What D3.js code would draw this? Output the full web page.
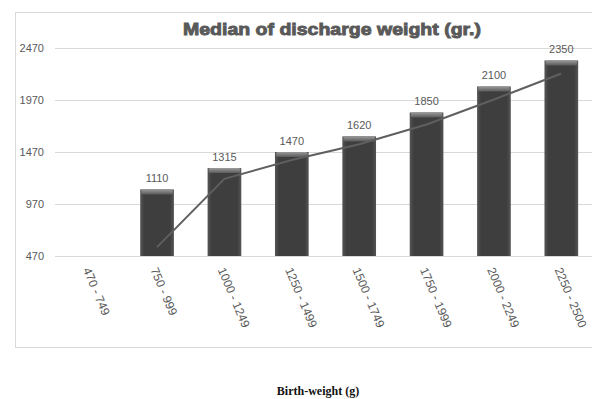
<!DOCTYPE html>
<html>
<head>
<meta charset="utf-8">
<script src="https://cdn.jsdelivr.net/npm/d3@7"></script>
<style>
  html, body { margin: 0; padding: 0; background: #fff; }
  svg { display: block; }
</style>
</head>
<body>
<svg id="chart" width="592" height="399"></svg>
<script>
// ---- data ----
const categories = ["470 - 749", "750 - 999", "1000 - 1249", "1250 - 1499", "1500 - 1749", "1750 - 1999", "2000 - 2249", "2250 - 2500"];
const medianValues = [null, 1110, 1315, 1470, 1620, 1850, 2100, 2350];
// trend line (2-period moving average as drawn in the source)
const trendValues = [null, 555, 1212.5, 1392.5, 1545, 1735, 1975, 2225];
const yTicks = [470, 970, 1470, 1970, 2470];
const titleText = "Median of discharge weight (gr.)";
const xAxisTitle = "Birth-weight (g)";

const svg = d3.select("#chart");

// gradients
const defs = svg.append("defs");
const bg = defs.append("linearGradient").attr("id", "barGrad").attr("x1", "0").attr("x2", "1").attr("y1", "0").attr("y2", "0");
bg.append("stop").attr("offset", "0%").attr("stop-color", "#555");
bg.append("stop").attr("offset", "12%").attr("stop-color", "#3e3e3e");
bg.append("stop").attr("offset", "88%").attr("stop-color", "#3e3e3e");
bg.append("stop").attr("offset", "100%").attr("stop-color", "#555");
const cg = defs.append("linearGradient").attr("id", "capGrad").attr("x1", "0").attr("x2", "0").attr("y1", "0").attr("y2", "1");
cg.append("stop").attr("offset", "0%").attr("stop-color", "#9a9a9a");
cg.append("stop").attr("offset", "100%").attr("stop-color", "#5a5a5a");

// chart border
svg.append("rect")
  .attr("x", 15.5).attr("y", 12.5).attr("width", 590).attr("height", 335)
  .attr("fill", "#fff").attr("stroke", "#d9d9d9").attr("stroke-width", 1);

// scales
const x = d3.scaleBand().domain(categories).range([56, 595]).paddingInner(0.5).paddingOuter(0.25);
const y = d3.scaleLinear().domain([470, 2470]).range([256, 48]);

// gridlines
svg.append("g").selectAll("line").data(yTicks).join("line")
  .attr("x1", 55).attr("x2", 592)
  .attr("y1", d => Math.round(y(d)) + 0.5).attr("y2", d => Math.round(y(d)) + 0.5)
  .attr("stroke", "#d9d9d9").attr("stroke-width", 1);

// y axis labels
const yAxis = d3.axisLeft(y).tickValues(yTicks).tickSize(0).tickPadding(0).tickFormat(d3.format("d"));
const gy = svg.append("g").attr("transform", "translate(44,0)").call(yAxis);
gy.select(".domain").remove();
gy.selectAll("text").attr("font-family", "Liberation Sans, Arial, sans-serif").attr("font-size", 11).attr("fill", "#595959");

// x axis labels (rotated)
const gx = svg.append("g");
gx.selectAll("text").data(categories).join("text")
  .attr("transform", d => `translate(${x(d) + x.bandwidth() / 2 - 3},${268}) rotate(67)`)
  .attr("text-anchor", "start")
  .attr("dy", "0.35em")
  .attr("font-family", "Liberation Sans, Arial, sans-serif")
  .attr("font-size", 12)
  .attr("fill", "#595959")
  .text(d => d);

// bars
const barData = categories.map((c, i) => ({ c, v: medianValues[i] })).filter(d => d.v != null);
const bars = svg.append("g");
bars.selectAll("rect.bar").data(barData).join("rect")
  .attr("class", "bar")
  .attr("x", d => x(d.c)).attr("width", x.bandwidth())
  .attr("y", d => y(d.v)).attr("height", d => y(470) - y(d.v))
  .attr("fill", "url(#barGrad)");
bars.selectAll("rect.cap").data(barData).join("rect")
  .attr("class", "cap")
  .attr("x", d => x(d.c) + 1).attr("width", x.bandwidth() - 2)
  .attr("y", d => y(d.v)).attr("height", 5)
  .attr("rx", 1.5)
  .attr("fill", "url(#capGrad)");

// trend line
const lineData = categories.map((c, i) => ({ c, v: trendValues[i] })).filter(d => d.v != null);
svg.append("path")
  .datum(lineData)
  .attr("fill", "none")
  .attr("stroke", "#5f5f5f")
  .attr("stroke-width", 2)
  .attr("d", d3.line().x(d => x(d.c) + x.bandwidth() / 2).y(d => y(d.v)));

// data labels
svg.append("g").selectAll("text").data(barData).join("text")
  .attr("x", d => x(d.c) + x.bandwidth() / 2)
  .attr("y", d => y(d.v) - 7)
  .attr("text-anchor", "middle")
  .attr("font-family", "Liberation Sans, Arial, sans-serif")
  .attr("font-size", 11)
  .attr("fill", "#595959")
  .text(d => d.v);

// title
svg.append("text")
  .attr("x", 332).attr("y", 35)
  .attr("text-anchor", "middle")
  .attr("font-family", "Liberation Sans, Arial, sans-serif")
  .attr("font-weight", "bold")
  .attr("font-size", 17)
  .attr("textLength", 298)
  .attr("lengthAdjust", "spacingAndGlyphs")
  .attr("fill", "#595959")
  .attr("stroke", "#595959").attr("stroke-width", 0.9)
  .text(titleText);

// x axis title
svg.append("text")
  .attr("x", 318).attr("y", 395)
  .attr("text-anchor", "middle")
  .attr("font-family", "Liberation Serif, Times New Roman, serif")
  .attr("font-weight", "bold")
  .attr("font-size", 12)
  .attr("fill", "#111")
  .text(xAxisTitle);
</script>
</body>
</html>
